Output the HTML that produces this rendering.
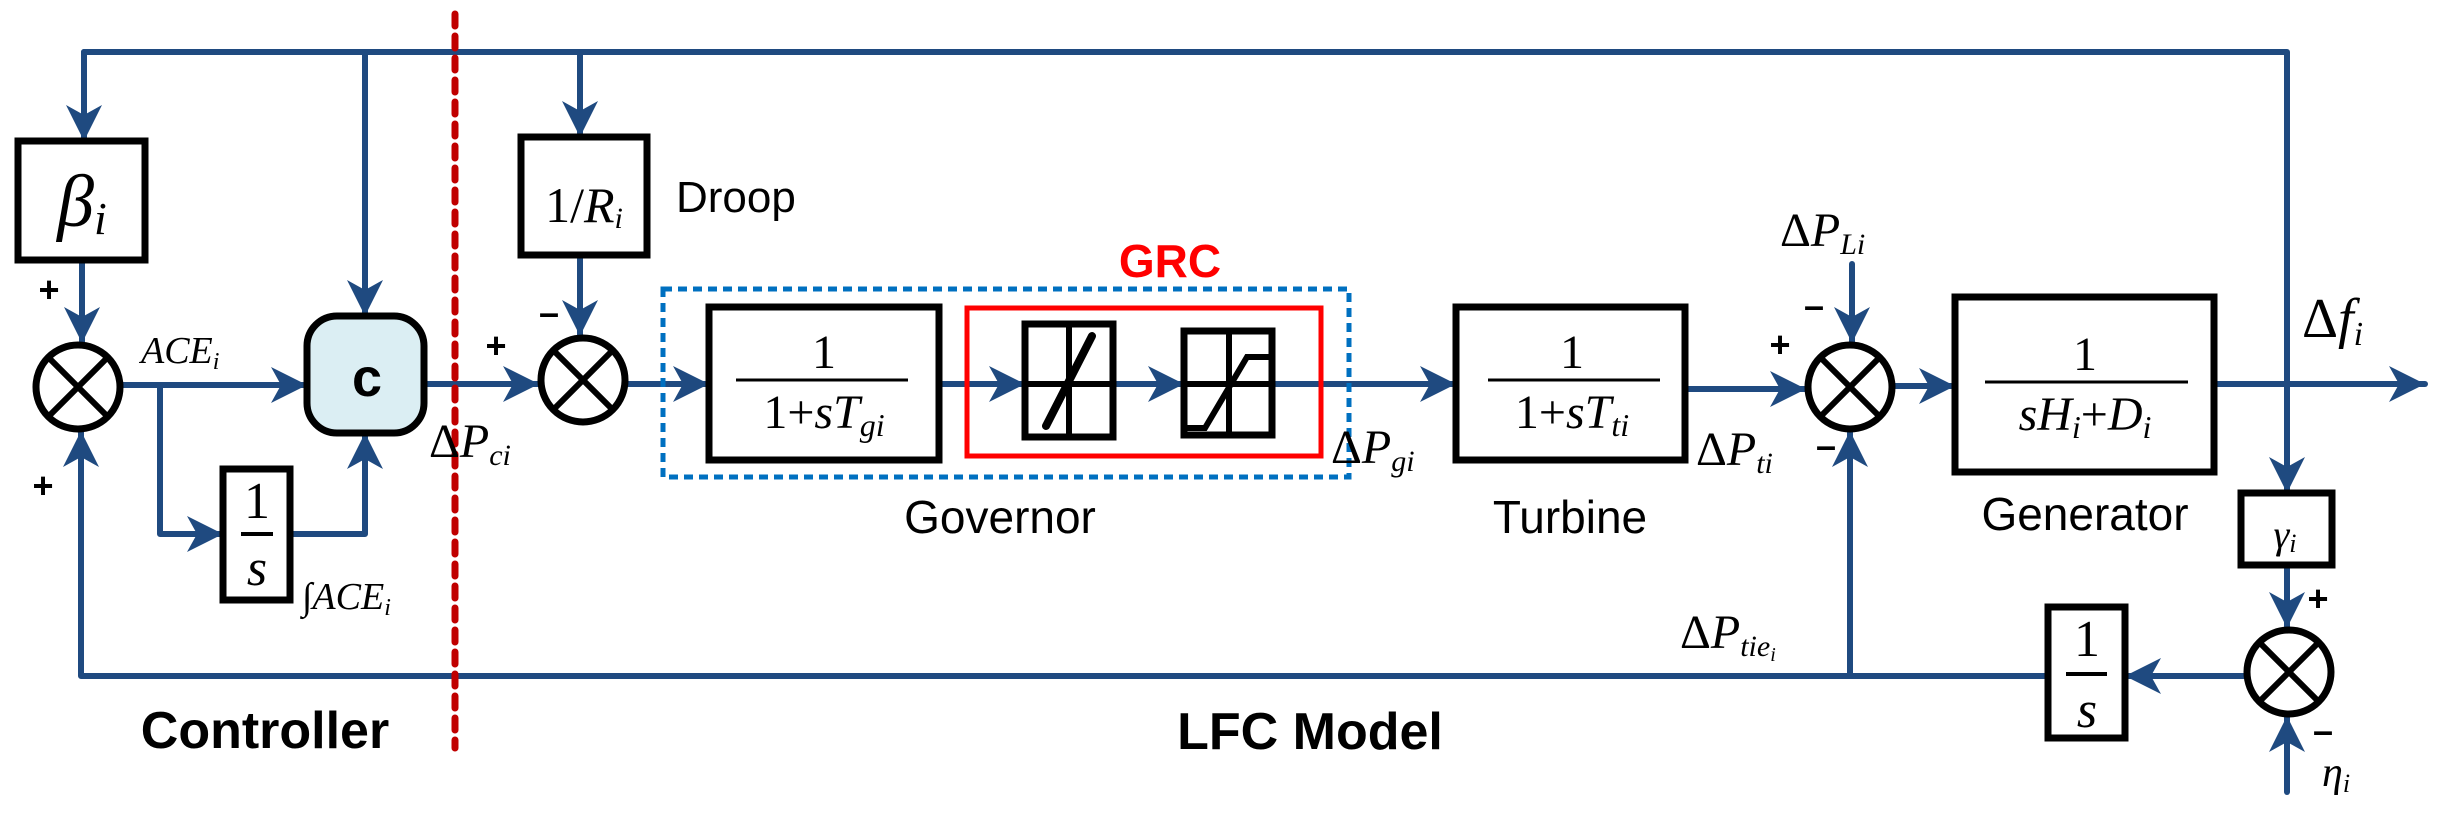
<!DOCTYPE html>
<html><head><meta charset="utf-8"><style>
html,body{margin:0;padding:0;background:#fff;}
svg{display:block;}
.m{font-family:"Liberation Serif",serif;}
.i{font-style:italic;}
.s{font-family:"Liberation Sans",sans-serif;}
</style></head><body>
<svg width="2446" height="820" viewBox="0 0 2446 820" xmlns="http://www.w3.org/2000/svg">
<defs>
<marker id="a" markerUnits="userSpaceOnUse" markerWidth="40" markerHeight="40" refX="36" refY="18" orient="auto">
<path d="M0,0 L36,18 L0,36 L10,18 z" fill="#1f4a80"/>
</marker>
</defs>
<g stroke="#1f4a80" stroke-width="6" fill="none" stroke-linecap="round" stroke-linejoin="round">
<polyline points="84,141 84,52 2287,52 2287,493" marker-end="url(#a)"/>
<line x1="84" y1="52" x2="84" y2="141" marker-end="url(#a)"/>
<line x1="82" y1="260" x2="82" y2="343" marker-end="url(#a)"/>
<line x1="365" y1="52" x2="365" y2="316" marker-end="url(#a)"/>
<line x1="122" y1="385" x2="307" y2="385" marker-end="url(#a)"/>
<polyline points="160,385 160,534 223,534" marker-end="url(#a)"/>
<polyline points="290,534 365,534 365,433" marker-end="url(#a)"/>
<polyline points="2048,676 81,676 81,431" marker-end="url(#a)"/>
<line x1="424" y1="384" x2="539" y2="384" marker-end="url(#a)"/>
<line x1="580" y1="52" x2="580" y2="137" marker-end="url(#a)"/>
<line x1="580" y1="255" x2="580" y2="336" marker-end="url(#a)"/>
<line x1="627" y1="384" x2="709" y2="384" marker-end="url(#a)"/>
<line x1="939" y1="384" x2="1025" y2="384" marker-end="url(#a)"/>
<line x1="1113" y1="384" x2="1184" y2="384" marker-end="url(#a)"/>
<line x1="1272" y1="384" x2="1456" y2="384" marker-end="url(#a)"/>
<line x1="1685" y1="389" x2="1806" y2="389" marker-end="url(#a)"/>
<line x1="1894" y1="386" x2="1955" y2="386" marker-end="url(#a)"/>
<line x1="1852" y1="264" x2="1852" y2="343" marker-end="url(#a)"/>
<line x1="2214" y1="384" x2="2425" y2="384" marker-end="url(#a)"/>
<line x1="2287" y1="565" x2="2287" y2="628" marker-end="url(#a)"/>
<line x1="2245" y1="676" x2="2125" y2="676" marker-end="url(#a)"/>
<line x1="1850" y1="676" x2="1850" y2="431" marker-end="url(#a)"/>
<line x1="2287" y1="792" x2="2287" y2="716" marker-end="url(#a)"/>
</g>
<line x1="455" y1="14" x2="455" y2="748" stroke="#c00000" stroke-width="7" stroke-dasharray="12,10" stroke-linecap="round"/>
<rect x="663" y="289" width="686" height="188" fill="none" stroke="#0070c0" stroke-width="5" stroke-dasharray="9,6"/>
<rect x="967" y="308" width="354" height="148" fill="none" stroke="#ff0000" stroke-width="5"/>
<g stroke="#000" stroke-width="7" fill="#fff">
<rect x="18" y="141" width="127" height="119"/>
<rect x="307" y="316" width="117" height="117" rx="30" fill="#dbeef3"/>
<rect x="223" y="469" width="67" height="131"/>
<rect x="521" y="137" width="126" height="118"/>
<rect x="709" y="307" width="230" height="153"/>
<rect x="1025" y="324" width="88" height="113"/>
<rect x="1184" y="331" width="88" height="104"/>
<rect x="1456" y="307" width="229" height="153"/>
<rect x="1955" y="297" width="259" height="175"/>
<rect x="2241" y="493" width="91" height="72"/>
<rect x="2048" y="607" width="77" height="131"/>
<circle cx="78" cy="387" r="42"/>
<circle cx="583" cy="380" r="42"/>
<circle cx="1850" cy="387" r="42"/>
<circle cx="2289" cy="672" r="42"/>
</g>
<g stroke="#000" stroke-width="6">
<line x1="48" y1="357" x2="108" y2="417"/><line x1="108" y1="357" x2="48" y2="417"/>
<line x1="553" y1="350" x2="613" y2="410"/><line x1="613" y1="350" x2="553" y2="410"/>
<line x1="1820" y1="357" x2="1880" y2="417"/><line x1="1880" y1="357" x2="1820" y2="417"/>
<line x1="2259" y1="642" x2="2319" y2="702"/><line x1="2319" y1="642" x2="2259" y2="702"/>
<line x1="1069" y1="324" x2="1069" y2="437"/><line x1="1025" y1="384" x2="1113" y2="384"/>
<line x1="1229" y1="331" x2="1229" y2="435"/><line x1="1184" y1="384" x2="1272" y2="384"/>
<line x1="1046" y1="426" x2="1092" y2="336" stroke-width="8" stroke-linecap="round"/>
<polyline points="1187,428 1205,428 1247,357 1270,357" fill="none"/>
<line x1="736" y1="380" x2="908" y2="380" stroke-width="3"/>
<line x1="1488" y1="380" x2="1660" y2="380" stroke-width="3"/>
<line x1="1985" y1="382" x2="2188" y2="382" stroke-width="3"/>
<line x1="241" y1="534" x2="273" y2="534" stroke-width="4"/>
<line x1="2066" y1="674" x2="2107" y2="674" stroke-width="4"/>
</g>
<g class="m" fill="#000">
<text x="82" y="226" font-size="74" text-anchor="middle" class="i">β<tspan font-size="46" dy="8">i</tspan></text>
<text x="584" y="222" font-size="50" text-anchor="middle">1/<tspan class="i">R</tspan><tspan class="i" font-size="30" dy="6">i</tspan></text>
<text x="257" y="518" font-size="52" text-anchor="middle">1</text>
<text x="257" y="585" font-size="52" text-anchor="middle" class="i">s</text>
<text x="2087" y="656" font-size="52" text-anchor="middle">1</text>
<text x="2087" y="727" font-size="52" text-anchor="middle" class="i">s</text>
<text x="2285" y="548" font-size="40" text-anchor="middle" class="i">γ<tspan font-size="26" dy="4">i</tspan></text>
<text x="824" y="368" font-size="48" text-anchor="middle">1</text>
<text x="824" y="428" font-size="48" text-anchor="middle">1+<tspan class="i">sT</tspan><tspan class="i" font-size="32" dy="8">gi</tspan></text>
<text x="1572" y="368" font-size="48" text-anchor="middle">1</text>
<text x="1572" y="428" font-size="48" text-anchor="middle">1+<tspan class="i">sT</tspan><tspan class="i" font-size="32" dy="8">ti</tspan></text>
<text x="2085" y="370" font-size="48" text-anchor="middle">1</text>
<text x="2085" y="430" font-size="48" text-anchor="middle"><tspan class="i">sH</tspan><tspan class="i" font-size="32" dy="8">i</tspan><tspan dy="-8">+</tspan><tspan class="i">D</tspan><tspan class="i" font-size="32" dy="8">i</tspan></text>
<text x="141" y="363" font-size="38" class="i">ACE<tspan font-size="24" dy="6">i</tspan></text>
<text x="302" y="609" font-size="38" class="i">∫ACE<tspan font-size="24" dy="6">i</tspan></text>
<text x="429" y="457" font-size="48">Δ<tspan class="i">P</tspan><tspan class="i" font-size="30" dy="8">ci</tspan></text>
<text x="1331" y="463" font-size="48">Δ<tspan class="i">P</tspan><tspan class="i" font-size="30" dy="8">gi</tspan></text>
<text x="1696" y="465" font-size="48">Δ<tspan class="i">P</tspan><tspan class="i" font-size="30" dy="8">ti</tspan></text>
<text x="1780" y="246" font-size="48">Δ<tspan class="i">P</tspan><tspan class="i" font-size="30" dy="8">Li</tspan></text>
<text x="1680" y="648" font-size="48">Δ<tspan class="i">P</tspan><tspan class="i" font-size="30" dy="8">tie</tspan><tspan class="i" font-size="20" dy="5">i</tspan></text>
<text x="2302" y="337" font-size="56">Δ<tspan class="i">f</tspan><tspan class="i" font-size="34" dy="8">i</tspan></text>
<text x="2322" y="786" font-size="42" class="i">η<tspan font-size="26" dy="6">i</tspan></text>
</g>
<g class="s" fill="#000" font-size="36" font-weight="bold" text-anchor="middle">
<text x="49" y="302">+</text>
<text x="43" y="498">+</text>
<text x="496" y="358">+</text>
<text x="549" y="325">–</text>
<text x="1780" y="357">+</text>
<text x="1814" y="318">–</text>
<text x="1826" y="458">–</text>
<text x="2318" y="611">+</text>
<text x="2323" y="743">–</text>
</g>
<g class="s" fill="#000">
<text x="367" y="396" font-size="54" font-weight="bold" text-anchor="middle">c</text>
<text x="676" y="212" font-size="44">Droop</text>
<text x="1000" y="533" font-size="46" text-anchor="middle">Governor</text>
<text x="1570" y="533" font-size="46" text-anchor="middle">Turbine</text>
<text x="2085" y="530" font-size="46" text-anchor="middle">Generator</text>
<text x="1170" y="277" font-size="46" font-weight="bold" fill="#ff0000" text-anchor="middle">GRC</text>
<text x="265" y="748" font-size="52" font-weight="bold" text-anchor="middle">Controller</text>
<text x="1310" y="749" font-size="52" font-weight="bold" text-anchor="middle">LFC Model</text>
</g>
</svg>
</body></html>
